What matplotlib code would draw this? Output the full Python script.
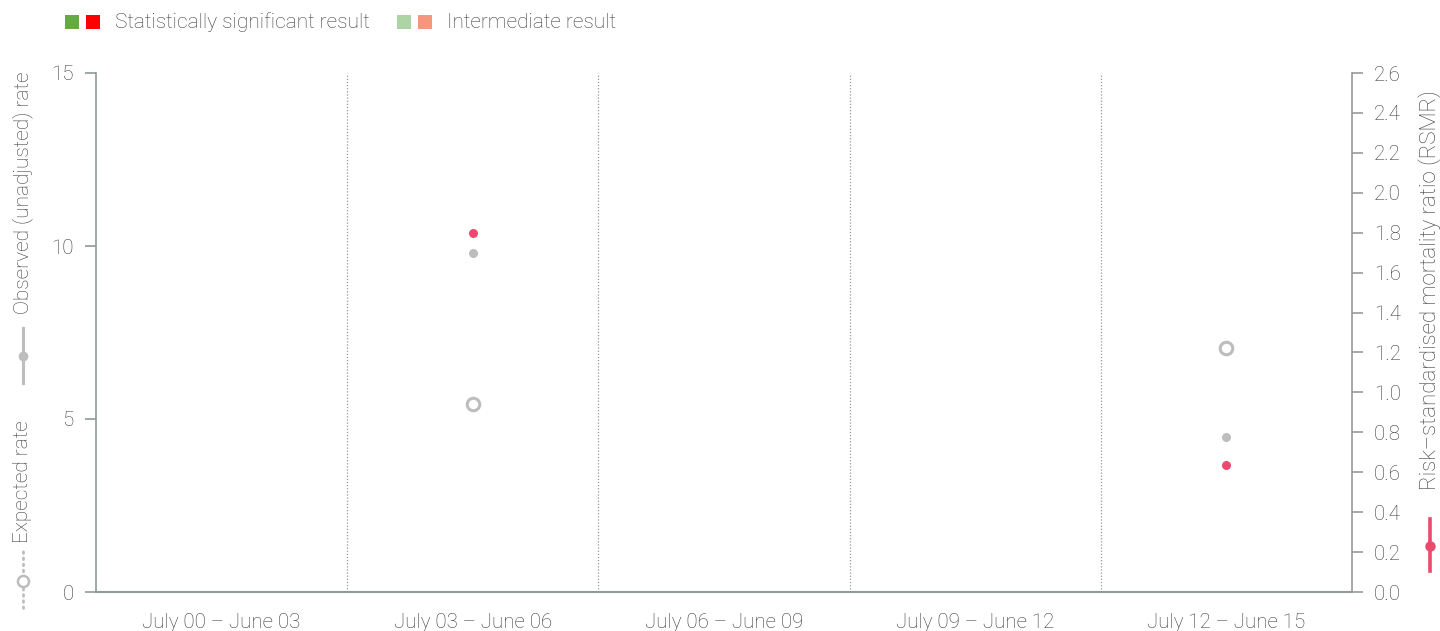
import matplotlib
matplotlib.use("Agg")
import matplotlib.pyplot as plt
from matplotlib.lines import Line2D
from matplotlib.patches import Rectangle

plt.rcParams['font.family'] = ['Roboto', 'DejaVu Sans']
plt.rcParams['font.weight'] = 'light'

categories = ["July 00 – June 03", "July 03 – June 06", "July 06 – June 09",
              "July 09 – June 12", "July 12 – June 15"]
observed = [None, 9.80, None, None, 4.48]
expected = [None, 5.43, None, None, 7.05]
rsmr = [None, 1.80, None, None, 0.635]

left_ticks = [0, 5, 10, 15]
right_ticks = [0.0, 0.2, 0.4, 0.6, 0.8, 1.0, 1.2, 1.4, 1.6, 1.8, 2.0, 2.2, 2.4, 2.6]

TXT = '#3c3c3c'
AX = '#8e9b9b'
GREY = '#bdbdbd'
RED = '#ea4a6e'
FS = 15
TFS = 14.8

fig = plt.figure(figsize=(14.4, 6.31), dpi=100)
ax = fig.add_axes([96/1440, 39/631, (1352-96)/1440, (592-73)/631])
ax2 = ax.twinx()

n = len(categories)
ax.set_xlim(0, n)
ax.set_ylim(0, 15)
ax2.set_ylim(0, 2.6)

for i in range(1, n):
    ax.axvline(i, color='#999999', lw=0.9, ls=(0, (1, 1.5)))

xs = [i + 0.5 for i in range(n)]
for x, e, o, r in zip(xs, expected, observed, rsmr):
    if e is not None:
        ax.plot(x, e, 'o', ms=9, mfc='white', mec=GREY, mew=2.2, zorder=5)
    if o is not None:
        ax.plot(x, o, 'o', ms=6.5, color=GREY, mec='none', zorder=5)
    if r is not None:
        ax2.plot(x, r, 'o', ms=6.5, color=RED, mec='none', zorder=6)

ax.set_xticks(xs)
ax.set_xticklabels(categories)
ax.tick_params(axis='x', length=0, pad=15, labelsize=TFS, colors=TXT)
ax.set_yticks(left_ticks)
ax.tick_params(axis='y', length=8, width=1.2, color=AX, labelsize=TFS, labelcolor=TXT, pad=8)
ax2.set_yticks(right_ticks)
ax2.set_yticklabels([f"{v:.1f}" for v in right_ticks])
ax2.tick_params(axis='y', length=8, width=1.2, color='#999999', labelsize=TFS, labelcolor=TXT, pad=8)

for a in (ax, ax2):
    a.spines['top'].set_visible(False)
ax.spines['right'].set_visible(False)
ax.spines['left'].set_color(AX)
ax.spines['bottom'].set_color(AX)
ax.spines['left'].set_linewidth(1.2)
ax.spines['bottom'].set_linewidth(1.5)
ax2.spines['left'].set_visible(False)
ax2.spines['bottom'].set_visible(False)
ax2.spines['right'].set_color('#999999')
ax2.spines['right'].set_linewidth(1.2)

def fx(px): return px / 1440
def fy(py): return 1 - py / 631

fig.text(fx(23), fy(482), "Expected rate", rotation=90, ha='center', va='center',
         fontsize=FS, color=TXT)
fig.add_artist(Line2D([fx(23), fx(23)], [fy(608), fy(550)], transform=fig.transFigure,
                      color=GREY, lw=2, ls=(0, (0.6, 1.6)), dash_capstyle='round'))
fig.add_artist(Line2D([fx(23)], [fy(581)], transform=fig.transFigure, marker='o', ms=8,
                      mfc='white', mec=GREY, mew=1.8, ls='none'))

fig.text(fx(23), fy(193), "Observed (unadjusted) rate", rotation=90, ha='center', va='center',
         fontsize=FS, color=TXT)
fig.add_artist(Line2D([fx(23), fx(23)], [fy(383), fy(328)], transform=fig.transFigure,
                      color=GREY, lw=2.2))
fig.add_artist(Line2D([fx(23)], [fy(356)], transform=fig.transFigure, marker='o', ms=7,
                      color=GREY, mec='none', ls='none'))

fig.text(fx(1430), fy(290), "Risk–standardised mortality ratio (RSMR)", rotation=90,
         ha='center', va='center', fontsize=16, color=TXT)
fig.add_artist(Line2D([fx(1430), fx(1430)], [fy(571), fy(519)], transform=fig.transFigure,
                      color=RED, lw=2.6))
fig.add_artist(Line2D([fx(1430)], [fy(546)], transform=fig.transFigure, marker='o', ms=7.5,
                      color=RED, mec='none', ls='none'))

legend_colors = ['#66aa44', '#ff0000', '#acd4a4', '#f4977a']
sq = 14
for px, c in zip([65, 86, 397, 418], legend_colors):
    fig.add_artist(Rectangle((fx(px), fy(29)), sq/1440, sq/631, transform=fig.transFigure,
                             color=c, lw=0))
fig.text(fx(115), fy(22), "Statistically significant result", ha='left', va='center',
         fontsize=FS, color=TXT)
fig.text(fx(447), fy(22), "Intermediate result", ha='left', va='center',
         fontsize=FS, color=TXT)

fig.savefig("out.png", dpi=100)
